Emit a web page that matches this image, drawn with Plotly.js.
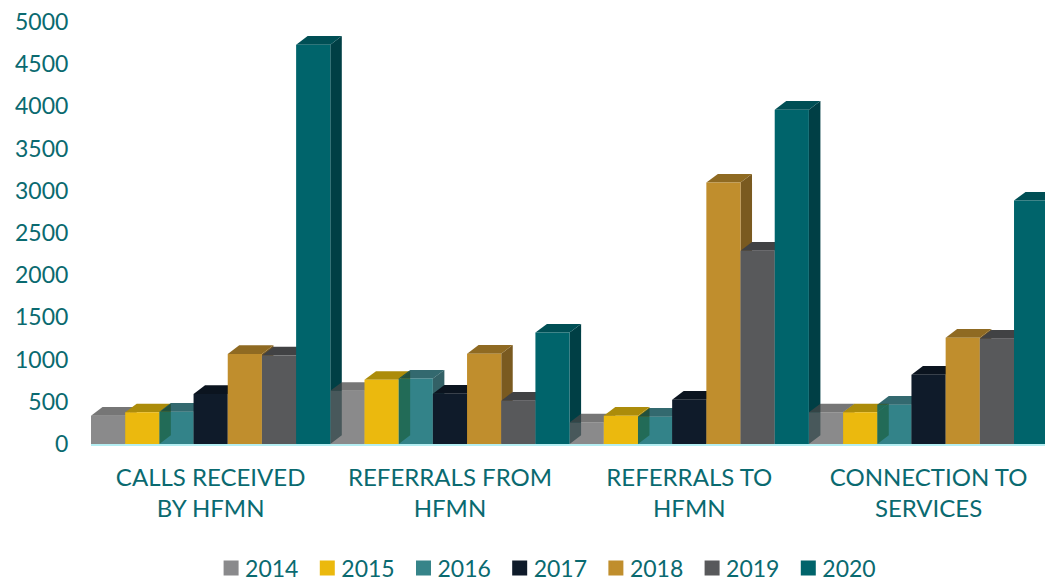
<!DOCTYPE html>
<html><head><meta charset="utf-8"><script src="https://cdn.plot.ly/plotly-3.0.1.min.js"></script>
<style>html,body{margin:0;padding:0;background:#fff;overflow:hidden}</style></head>
<body><div id="chart" style="width:1045px;height:579px"></div>
<script>
const categories = ["CALLS RECEIVED<br>BY HFMN","REFERRALS FROM<br>HFMN","REFERRALS TO<br>HFMN","CONNECTION TO<br>SERVICES"];
const years = ["2014","2015","2016","2017","2018","2019","2020"];
const v2014 = [335,630,256,375];
const v2015 = [375,760,335,375];
const v2016 = [383,775,323,466];
const v2017 = [592,595,525,821];
const v2018 = [1066,1070,3097,1260];
const v2019 = [1050,513,2290,1248];
const v2020 = [4731,1320,3960,2884];
const seriesValues = [v2014,v2015,v2016,v2017,v2018,v2019,v2020];
const legendColors = ["#8a8a8c","#ebb90e","#368489","#0f1b2a","#c08e2d","#58595b","#00646b"];
const frontColors = ["rgba(97,97,98,0.74)","#ebb90e","rgba(0,100,107,0.8)","#0f1b2a","#c08e2d","#58595b","#00646b"];
const topColors = ["rgba(70,70,70,0.74)","#ac8c0a","rgba(0,68,75,0.8)","#0b141f","#8f6a22","#414244","#004f55"];
const sideColors = ["rgba(55,55,55,0.74)","#a88808","rgba(0,58,64,0.8)","#09111b","#7a5a20","#38393a","#003f45"];
const textColor = "#0a6a70";
const font = "Lato, 'Open Sans', sans-serif";
const depthX = 11.5/239.3, depthY = 103;
const barW = 1/7;

const traces = [], shapes = [];
years.forEach((y,s)=>{
  traces.push({type:"bar",name:y,x:[0,1,2,3],y:seriesValues[s],width:barW,offset:-0.5+s*barW,marker:{color:frontColors[s],line:{width:0}},showlegend:false,legendgroup:y});
});
years.forEach((y,s)=>{
  traces.push({type:"bar",name:y,x:[null],y:[null],marker:{color:legendColors[s],line:{color:legendColors[s],width:3}},showlegend:true,legendgroup:y});
});
[0,1,2,3].forEach(c=>{
  years.forEach((y,s)=>{
    const v = seriesValues[s][c];
    const xl = c-0.5+s*barW, xr = xl+barW;
    shapes.push({type:"path",layer:"below",xref:"x",yref:"y",line:{width:0},fillcolor:sideColors[s],
      path:`M${xr},0L${xr+depthX},${depthY}L${xr+depthX},${v+depthY}L${xr},${v}Z`});
    shapes.push({type:"path",layer:"below",xref:"x",yref:"y",line:{width:0},fillcolor:topColors[s],
      path:`M${xl},${v}L${xl+depthX},${v+depthY}L${xr+depthX},${v+depthY}L${xr},${v}Z`});
  });
});
const layout = {
  width:1045,height:579,paper_bgcolor:"#fff",plot_bgcolor:"#fff",
  margin:{l:91,r:0,t:22,b:135,pad:0},
  barmode:"overlay",shapes,
  font:{family:font,color:textColor,size:24},
  xaxis:{type:"linear",range:[-0.5,3.4866],tickmode:"array",tickvals:[0,1,2,3],ticktext:categories,ticks:"outside",ticklen:11,tickcolor:"rgba(0,0,0,0)",showgrid:false,zeroline:false,showline:true,linecolor:"#b4eef2",linewidth:2,tickfont:{size:24,color:textColor,family:font},fixedrange:true},
  yaxis:{range:[0,5000],tickmode:"array",tickvals:[0,500,1000,1500,2000,2500,3000,3500,4000,4500,5000],ticks:"outside",ticklen:17,tickcolor:"rgba(0,0,0,0)",showgrid:false,zeroline:false,showline:false,tickfont:{size:23,color:textColor,family:font},fixedrange:true},
  legend:{orientation:"h",xref:"container",yref:"container",x:0.202,xanchor:"left",y:0.056,yanchor:"top",entrywidth:51.2,entrywidthmode:"pixels",font:{size:23,color:textColor,family:font},traceorder:"normal",bgcolor:"rgba(0,0,0,0)",tracegroupgap:0}
};
Plotly.newPlot("chart",traces,layout,{displayModeBar:false,staticPlot:true}).then(gd=>{
  gd.querySelectorAll(".legendtext").forEach(t=>{
    t.setAttribute("x", parseFloat(t.getAttribute("x"))-6);
  });
});
</script></body></html>
